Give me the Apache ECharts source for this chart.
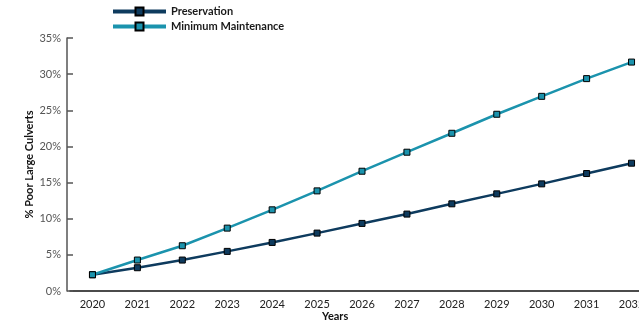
<!DOCTYPE html>
<html><head><meta charset="utf-8">
<script src="https://cdn.jsdelivr.net/npm/echarts@6/dist/echarts.min.js"></script>
<style>html,body{margin:0;padding:0;background:#fff}#c{width:639px;height:322px}</style>
</head><body><div id="c"></div>
<script>
const years = ['2020','2021','2022','2023','2024','2025','2026','2027','2028','2029','2030','2031','2032'];
const preservation = [2.25,3.22,4.28,5.48,6.72,8.01,9.35,10.64,12.06,13.44,14.82,16.25,17.68];
const minimumMaintenance = [2.25,4.28,6.26,8.70,11.23,13.85,16.57,19.2,21.82,24.45,26.93,29.38,31.67];
const seriesNames = ['Preservation','Minimum Maintenance'];
const yTicks = [0,5,10,15,20,25,30,35];

const FONT = 'Lato, "Open Sans", sans-serif';
const chart = echarts.init(document.getElementById('c'), null, {renderer:'canvas'});
const colors = ['#0e3b5e','#1b93ad'];
chart.setOption({
  animation:false,
  color: colors,
  grid:{left:70, width:584, top:38, bottom:31, containLabel:false, outerBoundsMode:'none'},
  legend:{
    orient:'vertical', left:106, top:1, itemWidth:53, itemHeight:10, itemGap:4,
    lineStyle:{width:4},
    textStyle:{fontFamily:FONT, fontWeight:'bold', fontSize:11, color:'#1a1a1a'},
    data: seriesNames
  },
  xAxis:{
    type:'category', data:years, boundaryGap:true,
    axisLine:{lineStyle:{color:'#111', width:1.5}},
    axisTick:{inside:true, length:6, lineStyle:{color:'#555', width:1.5}},
    axisLabel:{fontFamily:FONT, fontSize:11, color:'#222', margin:8}
  },
  yAxis:{
    type:'value', min:0, max:35, interval:5, offset:3,
    name:'% Poor Large Culverts', nameLocation:'middle', nameGap:32, nameMoveOverlap:false,
    nameTextStyle:{fontFamily:FONT, fontWeight:'bold', fontSize:11, color:'#111'},
    splitLine:{show:false},
    axisLine:{show:true, lineStyle:{color:'#555', width:1.5}},
    axisTick:{show:true, inside:true, length:6, lineStyle:{color:'#555', width:1.5}},
    axisLabel:{fontFamily:FONT, fontSize:11, color:'#555', margin:6,
      formatter: v => yTicks.includes(v) ? v + '%' : ''}
  },
  graphic:[{type:'text', left:322, top:311, style:{text:'Years', font:'bold 11px '+FONT, fill:'#111'}}],
  series:[
    {name:seriesNames[0], type:'line', data:preservation, symbol:'rect', symbolSize:6,
     lineStyle:{width:2.5, color:colors[0]}, itemStyle:{color:colors[0], borderColor:'#000', borderWidth:1}},
    {name:seriesNames[1], type:'line', data:minimumMaintenance, symbol:'rect', symbolSize:6,
     lineStyle:{width:2.5, color:colors[1]}, itemStyle:{color:colors[1], borderColor:'#000', borderWidth:1}}
  ]
});
</script></body></html>
